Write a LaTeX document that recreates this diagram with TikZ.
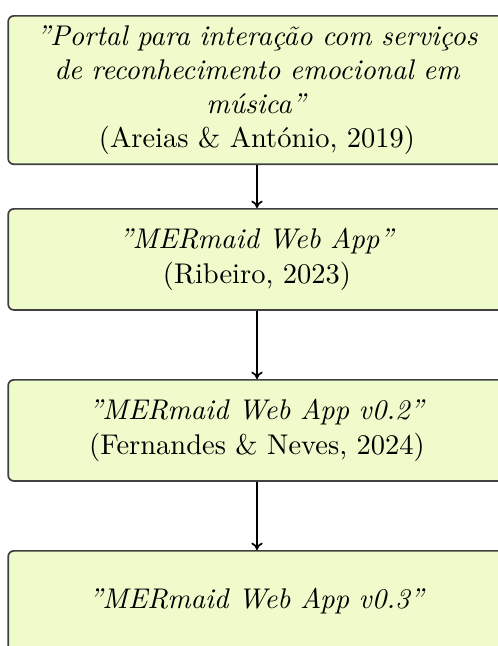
\documentclass[tikz,border=0pt]{standalone}
\usepackage{fontspec}
\usetikzlibrary{arrows.meta}
\definecolor{boxfill}{RGB}{240,251,204}
\tikzset{
  stage/.style={draw=black!75, line width=0.6pt, fill=boxfill, rounded corners=2pt,
    text width=168pt, inner sep=3.33pt, align=center, minimum height=35.5pt,
    anchor=north, font=\normalsize},
  flow/.style={draw=black, line width=0.6pt, -{To[length=2.6pt,width=4pt]}},
}
\begin{document}
\begin{tikzpicture}[x=0.351pt, y=-0.351pt]
  \useasboundingbox (0,0) rectangle (498,646);
  \clip (0,0) rectangle (498,646);
  \node[stage] (portal) at (257,15)
    {\textit{”Portal para interação com serviços\\ de reconhecimento emocional em\\ música”}\\ (Areias \& António, 2019)};
  \node[stage] (mer1) at (257,208)
    {\textit{”MERmaid Web App”}\\ (Ribeiro, 2023)};
  \node[stage] (mer2) at (257,379)
    {\textit{”MERmaid Web App v0.2”}\\ (Fernandes \& Neves, 2024)};
  \node[stage] (mer3) at (257,550)
    {\textit{”MERmaid Web App v0.3”}};
  \draw[flow] (portal) -- (mer1);
  \draw[flow] (mer1) -- (mer2);
  \draw[flow] (mer2) -- (mer3);
\end{tikzpicture}
\end{document}
